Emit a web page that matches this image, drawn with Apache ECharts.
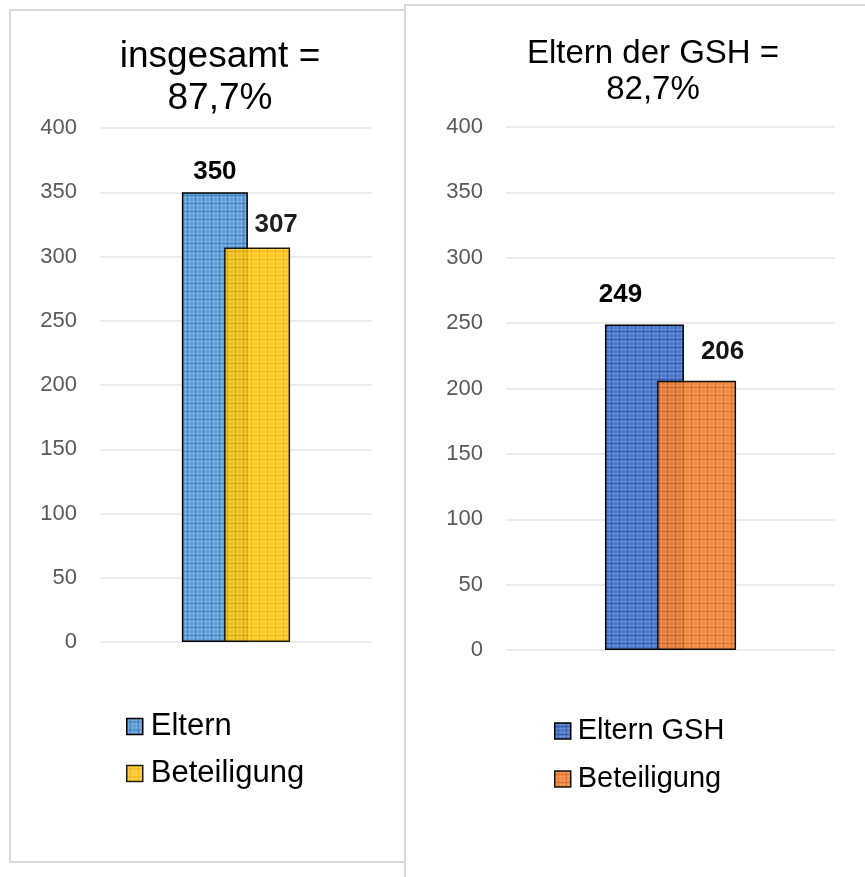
<!DOCTYPE html>
<html>
<head>
<meta charset="utf-8">
<style>
  html, body { margin: 0; padding: 0; background: #fff; }
  #chart { width: 865px; height: 877px; }
</style>
<script src="https://cdn.jsdelivr.net/npm/echarts@6/dist/echarts.min.js"></script>
</head>
<body>
<div id="chart"></div>
<script>
// data
const categories = ['Eltern'];
const elternAll = [350];
const beteiligungAll = [307];
const elternGsh = [249];
const beteiligungGsh = [206];
const titleAll = 'insgesamt =\n87,7%';
const titleGsh = 'Eltern der GSH =\n82,7%';
const yMin = 0, yMax = 400, yStep = 50;

const font = '"Liberation Sans", Arial, sans-serif';

// small excel-like grid pattern
const makePattern = (base, light, dark) => {
  const c = document.createElement('canvas');
  c.width = 8;
  c.height = 8;
  const g = c.getContext('2d');
  g.fillStyle = base;
  g.fillRect(0, 0, 8, 8);
  g.fillStyle = light;
  g.fillRect(0, 1, 8, 1);
  g.fillRect(1, 0, 1, 8);
  g.fillRect(0, 5, 8, 1);
  g.fillRect(5, 0, 1, 8);
  g.fillStyle = dark;
  g.fillRect(0, 3, 8, 1);
  g.fillRect(3, 0, 1, 8);
  return { image: c, repeat: 'repeat' };
};

const bluePat = makePattern('#5b9bd5', '#80b2e2', '#4682c4');
const yellowPat = makePattern('#ffc000', '#ffce3a', '#eeaf00');
const navyPat = makePattern('#4472c4', '#6e8fd0', '#3660ae');
const orangePat = makePattern('#ed7d31', '#f3924f', '#d9691d');

const chart = echarts.init(document.getElementById('chart'));

const yAxisBase = (gridIndex) => ({
  type: 'value',
  gridIndex: gridIndex,
  min: yMin,
  max: yMax,
  interval: yStep,
  axisLine: { show: false },
  axisTick: { show: false },
  axisLabel: { color: '#595959', fontSize: 22, fontFamily: font, margin: 23 },
  splitLine: { lineStyle: { color: '#ececec', width: 2 } }
});

const xAxisBase = (gridIndex) => ({
  type: 'category',
  gridIndex: gridIndex,
  data: categories,
  axisLine: { show: false },
  axisTick: { show: false },
  axisLabel: { show: false }
});

const barLabel = (distance, dx) => ({
  show: true,
  position: 'top',
  distance: distance,
  offset: [dx, 0],
  color: '#000',
  fontWeight: 'bold',
  fontSize: 26,
  fontFamily: font
});

const option = {
  animation: false,
  title: [
    {
      text: titleAll,
      left: 215,
      top: 31,
      textAlign: 'center',
      textStyle: { fontSize: 37, fontWeight: 'normal', color: '#000', fontFamily: font, lineHeight: 42 }
    },
    {
      text: titleGsh,
      left: 648,
      top: 31,
      textAlign: 'center',
      textStyle: { fontSize: 33, fontWeight: 'normal', color: '#000', fontFamily: font, lineHeight: 36 }
    }
  ],
  graphic: [
    { type: 'rect', shape: { x: 10, y: 10, width: 395, height: 852 }, style: { fill: 'none', stroke: '#d9d9d9', lineWidth: 2 } },
    { type: 'rect', shape: { x: 405, y: 5, width: 480, height: 890 }, style: { fill: 'none', stroke: '#d9d9d9', lineWidth: 2 } }
  ],
  legend: [
    {
      orient: 'vertical',
      left: 126,
      top: 711,
      padding: 0,
      itemGap: 16,
      itemWidth: 16,
      itemHeight: 16,
      icon: 'rect',
      data: ['Eltern', 'Beteiligung'],
      itemStyle: { borderColor: '#000', borderWidth: 1.5 },
      textStyle: { fontSize: 31, lineHeight: 30, color: '#000', fontFamily: font, padding: [0, 0, 0, 3] }
    },
    {
      orient: 'vertical',
      left: 554,
      top: 716,
      padding: 0,
      itemGap: 18,
      itemWidth: 16,
      itemHeight: 16,
      icon: 'rect',
      data: ['Eltern GSH', 'Beteiligung '],
      formatter: (name) => name.trim(),
      itemStyle: { borderColor: '#000', borderWidth: 1.5 },
      textStyle: { fontSize: 29, lineHeight: 30, color: '#000', fontFamily: font, padding: [0, 0, 0, 2] }
    }
  ],
  grid: [
    { left: 100, top: 128, width: 272, height: 514 },
    { left: 506, top: 127, width: 329, height: 523 }
  ],
  xAxis: [xAxisBase(0), xAxisBase(1)],
  yAxis: [yAxisBase(0), yAxisBase(1)],
  series: [
    {
      name: 'Eltern',
      type: 'bar',
      xAxisIndex: 0,
      yAxisIndex: 0,
      barWidth: 66,
      barGap: '-36%',
      data: elternAll,
      itemStyle: { color: bluePat, borderColor: '#000', borderWidth: 1.5 },
      label: barLabel(7, 0)
    },
    {
      name: 'Beteiligung',
      type: 'bar',
      xAxisIndex: 0,
      yAxisIndex: 0,
      barWidth: 66,
      barGap: '-36%',
      data: beteiligungAll,
      itemStyle: { color: yellowPat, borderColor: '#000', borderWidth: 1.5, opacity: 0.88 },
      label: barLabel(10, 19)
    },
    {
      name: 'Eltern GSH',
      type: 'bar',
      xAxisIndex: 1,
      yAxisIndex: 1,
      barWidth: 79,
      barGap: '-34%',
      data: elternGsh,
      itemStyle: { color: navyPat, borderColor: '#000', borderWidth: 1.5 },
      label: barLabel(17, -24)
    },
    {
      name: 'Beteiligung ',
      type: 'bar',
      xAxisIndex: 1,
      yAxisIndex: 1,
      barWidth: 79,
      barGap: '-34%',
      data: beteiligungGsh,
      itemStyle: { color: orangePat, borderColor: '#000', borderWidth: 1.5, opacity: 0.92 },
      label: barLabel(16, 26)
    }
  ]
};

chart.setOption(option);
</script>
</body>
</html>
